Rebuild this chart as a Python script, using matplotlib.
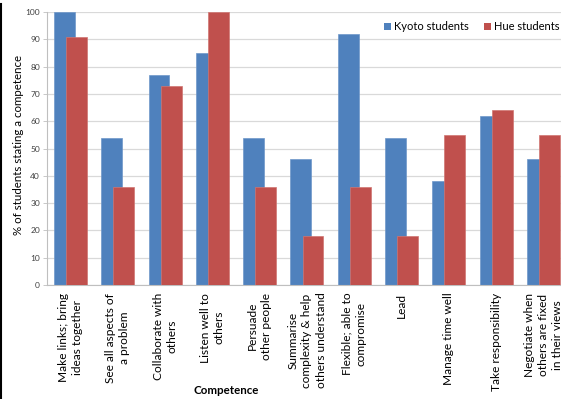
import matplotlib
matplotlib.use("Agg")
import matplotlib.pyplot as plt
from matplotlib.patches import Patch
from matplotlib.lines import Line2D
import numpy as np

categories = [
    "Make links; bring\nideas together",
    "See all aspects of\na problem",
    "Collaborate with\nothers",
    "Listen well to\nothers",
    "Persuade\nother people",
    "Summarise\ncomplexity & help\nothers understand",
    "Flexible; able to\ncompromise",
    "Lead",
    "Manage time well",
    "Take responsibility",
    "Negotiate when\nothers are fixed\nin their views",
]
kyoto = [100, 54, 77, 85, 54, 46, 92, 54, 38, 62, 46]
hue = [91, 36, 73, 100, 36, 18, 36, 18, 55, 64, 55]
series_names = ["Kyoto students", "Hue students"]
yticks = list(range(0, 101, 10))

BLUE = "#4F81BD"
RED = "#C0504D"
FONT = "Lato"

W, H = 561, 399
fig = plt.figure(figsize=(W / 100, H / 100), dpi=100)
fig.patch.set_facecolor("white")

left_px, right_px, top_px, bot_px = 46.9, 567.0, 12.0, 285.0
ax = fig.add_axes([left_px / W, 1 - bot_px / H, (right_px - left_px) / W, (bot_px - top_px) / H])

x = np.arange(len(categories))
bw = 0.44
ax.bar(x - 0.128, kyoto, width=bw, color=BLUE, edgecolor="#6f97c9", linewidth=0.5, zorder=2)
ax.bar(x + 0.128, hue, width=bw, color=RED, edgecolor="#d07572", linewidth=0.5, zorder=3)

ax.set_xlim(-0.5, len(categories) - 0.5)
ax.set_ylim(0, 100)
ax.set_yticks(yticks)
ax.set_yticklabels([str(v) for v in yticks], fontsize=6, color="#404040", family=FONT)
ax.set_xticks(x)
ax.set_xticklabels(categories, rotation=90, fontsize=8.6, family=FONT, ha="center", va="top",
                   multialignment="center", linespacing=1.35)
ax.tick_params(axis="x", length=0, pad=5.5)
ax.tick_params(axis="y", length=3, width=0.6, color="#BFBFBF", pad=2)

ax.grid(axis="y", color="#D9D9D9", linewidth=0.9, zorder=0)
ax.set_axisbelow(True)
for s in ["top", "right"]:
    ax.spines[s].set_visible(False)
for s in ["left", "bottom"]:
    ax.spines[s].set_color("#BFBFBF")
    ax.spines[s].set_linewidth(0.8)

fig.text(18 / W, 1 - 145 / H, "% of students stating a competence", rotation=90,
         ha="center", va="center", fontsize=8.3, family=FONT)
fig.text(226 / W, 1 - 391 / H, "Competence", ha="center", va="center",
         fontsize=8.3, fontweight="bold", family=FONT)

handles = [Patch(facecolor=BLUE, edgecolor="none"), Patch(facecolor=RED, edgecolor="none")]
fig.legend(handles, series_names, loc="center left", bbox_to_anchor=(384 / W, 1 - 27 / H),
           ncol=2, frameon=False, borderpad=0, borderaxespad=0, handlelength=0.6,
           handleheight=0.6, handletextpad=0.3, columnspacing=1.4,
           prop={"family": FONT, "size": 8.0})

fig.add_artist(Line2D([1 / W, 1 / W], [0, 1 - 4 / H], color="black", linewidth=1.5,
                      transform=fig.transFigure))

fig.savefig("out.png", dpi=100)
